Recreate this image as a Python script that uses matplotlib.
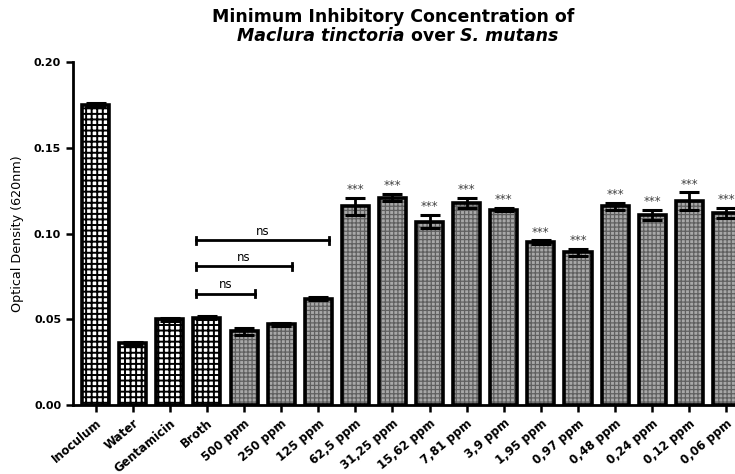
import matplotlib.pyplot as plt
import numpy as np

plt.rcParams['font.family'] = ['DejaVu Sans']

# Groups and measured optical density (620 nm)
labels = ['Inoculum', 'Water', 'Gentamicin', 'Broth', '500 ppm', '250 ppm', '125 ppm',
          '62,5 ppm', '31,25 ppm', '15,62 ppm', '7,81 ppm', '3,9 ppm', '1,95 ppm',
          '0,97 ppm', '0,48 ppm', '0,24 ppm', '0,12 ppm', '0,06 ppm']
values = [0.175, 0.036, 0.050, 0.051, 0.043, 0.047, 0.062,
          0.116, 0.121, 0.107, 0.118, 0.114, 0.095,
          0.089, 0.116, 0.111, 0.119, 0.112]
errors = [0.001, 0.001, 0.001, 0.001, 0.002, 0.001, 0.001,
          0.005, 0.002, 0.004, 0.003, 0.001, 0.001,
          0.002, 0.002, 0.003, 0.005, 0.003]
n_controls = 4
marks = ['', '', '', '', '', '', ''] + ['***'] * 11
# (from, to, height) of the "ns" comparisons
brackets = [(3, 4, 0.065), (3, 5, 0.081), (3, 6, 0.096)]

fig = plt.figure(figsize=(7.35, 4.74), dpi=100)
ax = fig.add_axes([0.0993, 0.1456, 0.9143, 0.7234])

x = np.arange(len(labels))
vals = np.array(values)
w = 0.73

# fill patterns first, outlines on top
with plt.rc_context({'hatch.linewidth': 1.4}):
    ax.bar(x[:n_controls], vals[:n_controls], width=w, color='white',
           edgecolor='black', hatch='+++', linewidth=0)
with plt.rc_context({'hatch.linewidth': 0.9}):
    ax.bar(x[n_controls:], vals[n_controls:], width=w, color='#a8a8a8',
           edgecolor='#606060', hatch='++++', linewidth=0)
ax.bar(x, vals, width=w, fill=False, edgecolor='black', linewidth=2.6)

ax.errorbar(x, vals, yerr=errors, fmt='none', ecolor='black',
            elinewidth=2, capsize=7, capthick=2.2)

for xi, v, e, m in zip(x, vals, errors, marks):
    if m:
        ax.text(xi, v + e + 0.001, m, ha='center', va='bottom',
                fontsize=8.5, color='#404040')

for a, b, h in brackets:
    x0, x1 = a - 0.3, b + 0.3
    ax.plot([x0, x1], [h, h], color='black', lw=2)
    ax.plot([x0, x0], [h - 0.002, h + 0.002], color='black', lw=2)
    ax.plot([x1, x1], [h - 0.002, h + 0.002], color='black', lw=2)
    ax.text((x0 + x1) / 2, h + 0.0015, 'ns', ha='center', va='bottom', fontsize=8.5)

ax.set_xlim(-0.61, 17.5)
ax.set_ylim(0, 0.20)
ax.set_yticks([0.00, 0.05, 0.10, 0.15, 0.20])
ax.set_yticklabels(['0.00', '0.05', '0.10', '0.15', '0.20'], fontweight='bold', fontsize=8)
ax.set_xticks(x)
ax.set_xticklabels(labels, rotation=40, ha='right', rotation_mode='anchor',
                   fontweight='bold', fontsize=8.5)
ax.tick_params(direction='out', length=5, width=1.8)

for side in ['top', 'right']:
    ax.spines[side].set_visible(False)
for side in ['left', 'bottom']:
    ax.spines[side].set_linewidth(2)

fig.text(18 / 735, 0.508, 'Optical Density (620nm)', rotation=90, ha='center',
         va='center', fontsize=9.2)

# title, second line mixes italic and upright words
fig.text(393 / 735, 1 - 17 / 474, 'Minimum Inhibitory Concentration of', ha='center',
         va='center', fontsize=12.5, fontweight='bold')
parts = [('Maclura tinctoria', 'italic'), (' over ', 'normal'), ('S. mutans', 'italic')]
renderer = fig.canvas.get_renderer()
pieces = []
for s, style in parts:
    t = fig.text(0, 1 - 36 / 474, s, ha='left', va='center', fontsize=12.5,
                 fontweight='bold', fontstyle=style)
    pieces.append(t)
widths = [t.get_window_extent(renderer).width for t in pieces]
pos = 398 - sum(widths) / 2
for t, wd in zip(pieces, widths):
    t.set_x(pos / 735)
    pos += wd

fig.savefig('out.png', dpi=100)
